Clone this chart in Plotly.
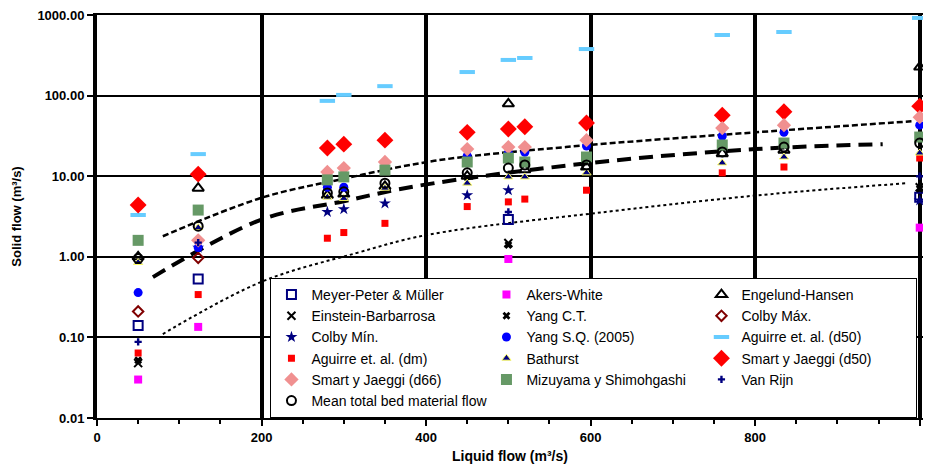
import plotly.graph_objects as go

# ---------------- data ----------------
liquid_flow = [50, 123, 280, 300, 350, 450, 500, 520, 595, 760, 835, 1000]

meyer_peter = [0.14, 0.53, None, None, None, None, 2.9, None, None, None, None, 5.5]
akers_white = [0.030, 0.135, None, None, None, None, 0.94, None, None, None, None, 2.3]
engelund_hansen = [1.0, 7.1, 5.8, 6.0, 7.5, 10.0, 79.0, 12.0, 13.0, 19.0, 21.0, 226.0]
einstein_barbarrosa = [0.048, None, None, None, None, None, 1.48, None, None, None, None, 7.3]
yang_ct = [0.052, None, None, None, None, None, 1.4, None, None, None, None, 7.0]
colby_max = [0.21, 0.97, None, None, None, None, None, None, None, None, None, None]
colby_min = [None, 1.3, 3.6, 3.9, 4.6, 5.8, 6.7, None, None, None, None, 5.0]
yang_sq = [0.36, 1.3, 7.3, 7.3, None, 17.8, 19.4, 19.8, 23.7, 31.5, 35.0, 43.0]
aguirre_d50 = [3.3, 18.8, 86, 102, 131, 196, 277, 293, 378, 565, 615, 920]
aguirre_dm = [0.064, 0.34, 1.7, 2.0, 2.6, 4.2, 4.8, 5.2, 6.7, 11.0, 13.0, 16.8]
bathurst = [0.85, 2.3, 5.5, 5.3, 7.1, 8.2, 9.8, 9.8, 11.0, 14.6, 17.3, 19.4]
smart_d50 = [4.4, 10.6, 22.4, 25.0, 28.0, 35.0, 38.5, 41.0, 45.7, 57.0, 63.0, 74.0]
smart_d66 = [None, 1.6, 11.3, 12.6, 15.0, 21.7, 23.0, 23.0, 28.0, 39.6, 43.0, 54.0]
mizuyama = [1.6, 3.8, 9.0, 9.8, 11.9, 15.0, 16.8, 15.0, 17.3, 24.4, 25.8, 30.6]
van_rijn = [0.088, 1.5, None, None, None, None, 3.6, None, None, None, None, 10.0]
mean_total = [0.95, 2.4, 6.2, 6.4, 8.2, 11.0, 12.6, 13.8, 13.8, 20.0, 23.0, 25.8]

# trend curves
upper_x = [80, 200, 300, 410, 570, 800, 990]
upper_y = [1.8, 5.4, 9.3, 15.5, 23.0, 35.0, 48.0]
middle_x = [68, 200, 300, 390, 600, 800, 955]
middle_y = [0.56, 2.9, 4.9, 7.6, 14.6, 21.7, 25.0]
lower_x = [80, 200, 315, 400, 618, 804, 985]
lower_y = [0.11, 0.49, 1.11, 1.86, 3.6, 5.8, 8.2]

x_ticks = [0, 200, 400, 600, 800, 1000]
y_tickvals = [0.01, 0.1, 1, 10, 100, 1000]
y_ticktext = ["0.01", "0.10", "1.00", "10.00", "100.00", "1000.00"]

FONT = "Liberation Sans, Arial, sans-serif"

fig = go.Figure()

# trend lines
for xs, ys, dash, w in [(upper_x, upper_y, "6px,3px", 2.5),
                        (middle_x, middle_y, "14px,8px", 4),
                        (lower_x, lower_y, "3px,3px", 2)]:
    fig.add_trace(go.Scatter(x=xs, y=ys, mode="lines", showlegend=False,
                             line=dict(color="black", width=w, dash=dash, shape="spline"),
                             hoverinfo="skip"))

series = [
    ("Meyer-Peter & Müller", meyer_peter, dict(symbol="square-open", size=9, color="#000080", line=dict(width=2, color="#000080"))),
    ("Akers-White", akers_white, dict(symbol="square", size=8, color="#FF00FF")),
    ("Engelund-Hansen", engelund_hansen, dict(symbol="triangle-up-open", size=10, color="black", line=dict(width=2, color="black"))),
    ("Einstein-Barbarrosa", einstein_barbarrosa, dict(symbol="x-thin", size=8, color="black", line=dict(width=2, color="black"))),
    ("Yang C.T.", yang_ct, dict(symbol="x", size=7, color="black")),
    ("Colby Máx.", colby_max, dict(symbol="diamond-open", size=8, color="#800000", line=dict(width=2, color="#800000"))),
    ("Colby Mín.", colby_min, dict(symbol="star", size=9, color="#000080")),
    ("Yang S.Q. (2005)", yang_sq, dict(symbol="circle", size=9, color="#0000FF")),
    ("Aguirre et. al. (d50)", aguirre_d50, dict(symbol="line-ew", size=11, color="#66CCFF", line=dict(width=4, color="#66CCFF"))),
    ("Aguirre et. al. (dm)", aguirre_dm, dict(symbol="square", size=7, color="#FF0000")),
    ("Bathurst", bathurst, dict(symbol="triangle-up", size=8, color="#000080", line=dict(width=1, color="#FFFF66"))),
    ("Smart y Jaeggi (d50)", smart_d50, dict(symbol="diamond", size=13, color="#FF0000")),
    ("Smart y Jaeggi (d66)", smart_d66, dict(symbol="diamond", size=11, color="#F09090")),
    ("Mizuyama y Shimohgashi", mizuyama, dict(symbol="square", size=11, color="#669966")),
    ("Van Rijn", van_rijn, dict(symbol="cross", size=6, color="#000080")),
    ("Mean total bed material flow", mean_total, dict(symbol="circle-open", size=9, color="black", line=dict(width=2, color="black"))),
]

for name, ys, mk in series:
    fig.add_trace(go.Scatter(x=liquid_flow, y=ys, mode="markers", name=name, marker=mk))

fig.update_layout(
    width=927, height=473,
    margin=dict(l=97, r=4, t=15, b=55, autoexpand=False),
    paper_bgcolor="white", plot_bgcolor="white",
    font=dict(family=FONT, color="black", size=13),
    showlegend=True,
    legend=dict(orientation="h", x=0.21, y=0, xanchor="left", yanchor="bottom",
                entrywidth=170, entrywidthmode="pixels",
                bordercolor="black", borderwidth=1, bgcolor="white",
                font=dict(family=FONT, size=14, color="black"),
                itemwidth=30, tracegroupgap=0),
    xaxis=dict(range=[0, 1004], tickvals=x_ticks, showgrid=True, gridcolor="black", gridwidth=4,
               automargin=False,
               ticks="outside", ticklen=6, tickwidth=2, tickcolor="black",
               showline=True, linecolor="black", linewidth=2, mirror=True, zeroline=False,
               tickfont=dict(family=FONT, size=13, color="black", weight="bold"),
               minor=dict(dtick=50, ticks="outside", ticklen=4, tickwidth=2, tickcolor="black", showgrid=False),
               title=dict(text="Liquid flow (m³/s)", font=dict(family=FONT, size=14, color="black", weight="bold"), standoff=8)),
    yaxis=dict(type="log", range=[-2, 3], tickvals=y_tickvals, ticktext=y_ticktext,
               automargin=False,
               showgrid=True, gridcolor="black", gridwidth=1.5,
               ticks="outside", ticklen=6, tickwidth=2, tickcolor="black",
               showline=True, linecolor="black", linewidth=4, zeroline=False,
               tickfont=dict(family=FONT, size=13, color="black", weight="bold"),
               title=dict(text="Solid flow (m³/s)", font=dict(family=FONT, size=13, color="black", weight="bold"), standoff=14)),
)

fig.write_html("out.html", config={"displayModeBar": False},
               post_script="document.body.style.margin='0px';document.body.style.padding='0px';")
